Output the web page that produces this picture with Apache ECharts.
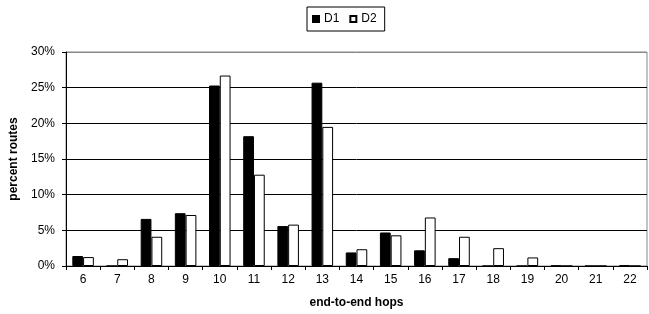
<!DOCTYPE html>
<html>
<head>
<meta charset="utf-8">
<script src="https://cdn.jsdelivr.net/npm/echarts@6/dist/echarts.min.js"></script>
<style>
html, body { margin: 0; padding: 0; background: #fff; }
#chart { width: 649px; height: 314px; }
</style>
</head>
<body>
<div id="chart"></div>
<script>
// hops on the x axis
var hops = ['6','7','8','9','10','11','12','13','14','15','16','17','18','19','20','21','22'];
// percent of routes
var d1 = [1.4, 0, 6.6, 7.4, 25.3, 18.2, 5.6, 25.7, 1.9, 4.7, 2.2, 1.1, 0, 0, 0.05, 0, 0.1];
var d2 = [1.25, 0.95, 4.1, 7.15, 26.7, 12.8, 5.8, 19.5, 2.35, 4.3, 6.8, 4.1, 2.5, 1.2, 0, 0, 0];

var myChart = echarts.init(document.getElementById('chart'));

var font = 'Liberation Sans, Arial, sans-serif';

var option = {
    animation: false,
    textStyle: { fontFamily: font, color: '#000' },
    legend: {
        top: 7,
        left: 307,
        data: ['D1', 'D2'],
        borderColor: '#000',
        borderWidth: 1,
        padding: [6, 8, 6, 5],
        itemWidth: 6,
        itemHeight: 6,
        itemGap: 10,
        icon: 'rect',
        textStyle: { fontFamily: font, fontSize: 12, color: '#000' }
    },
    grid: {
        left: 65,
        right: 2,
        top: 52,
        bottom: 45,
        show: true,
        borderColor: '#888',
        borderWidth: 1
    },
    xAxis: {
        type: 'category',
        data: hops,
        name: 'end-to-end hops',
        nameLocation: 'middle',
        nameGap: 31,
        nameTextStyle: { fontFamily: font, fontSize: 12, fontWeight: 'bold', color: '#000' },
        axisLine: { lineStyle: { color: '#000', width: 1 } },
        axisTick: { show: true, alignWithLabel: false, length: 4, lineStyle: { color: '#000' } },
        axisLabel: { fontFamily: font, fontSize: 12, color: '#000', margin: 8 }
    },
    yAxis: {
        type: 'value',
        min: 0,
        max: 30,
        interval: 5,
        name: 'percent routes',
        nameLocation: 'middle',
        nameGap: 46,
        nameTextStyle: { fontFamily: font, fontSize: 12, fontWeight: 'bold', color: '#000' },
        axisLine: { show: true, lineStyle: { color: '#000', width: 1 } },
        axisTick: { show: true, length: 4, lineStyle: { color: '#000' } },
        axisLabel: { fontFamily: font, fontSize: 12, color: '#000', formatter: '{value}%', margin: 11 },
        splitLine: { show: true, lineStyle: { color: ['#000', '#000', '#000', '#000', '#000', '#000', '#888'], width: 1 } }
    },
    series: [
        {
            name: 'D1',
            type: 'bar',
            data: d1,
            barGap: '0%',
            barCategoryGap: '37%',
            itemStyle: { color: '#000', borderColor: '#000', borderWidth: 1 }
        },
        {
            name: 'D2',
            type: 'bar',
            data: d2,
            itemStyle: { color: '#fff', borderColor: '#000', borderWidth: 1 }
        }
    ]
};

myChart.setOption(option);
</script>
</body>
</html>
